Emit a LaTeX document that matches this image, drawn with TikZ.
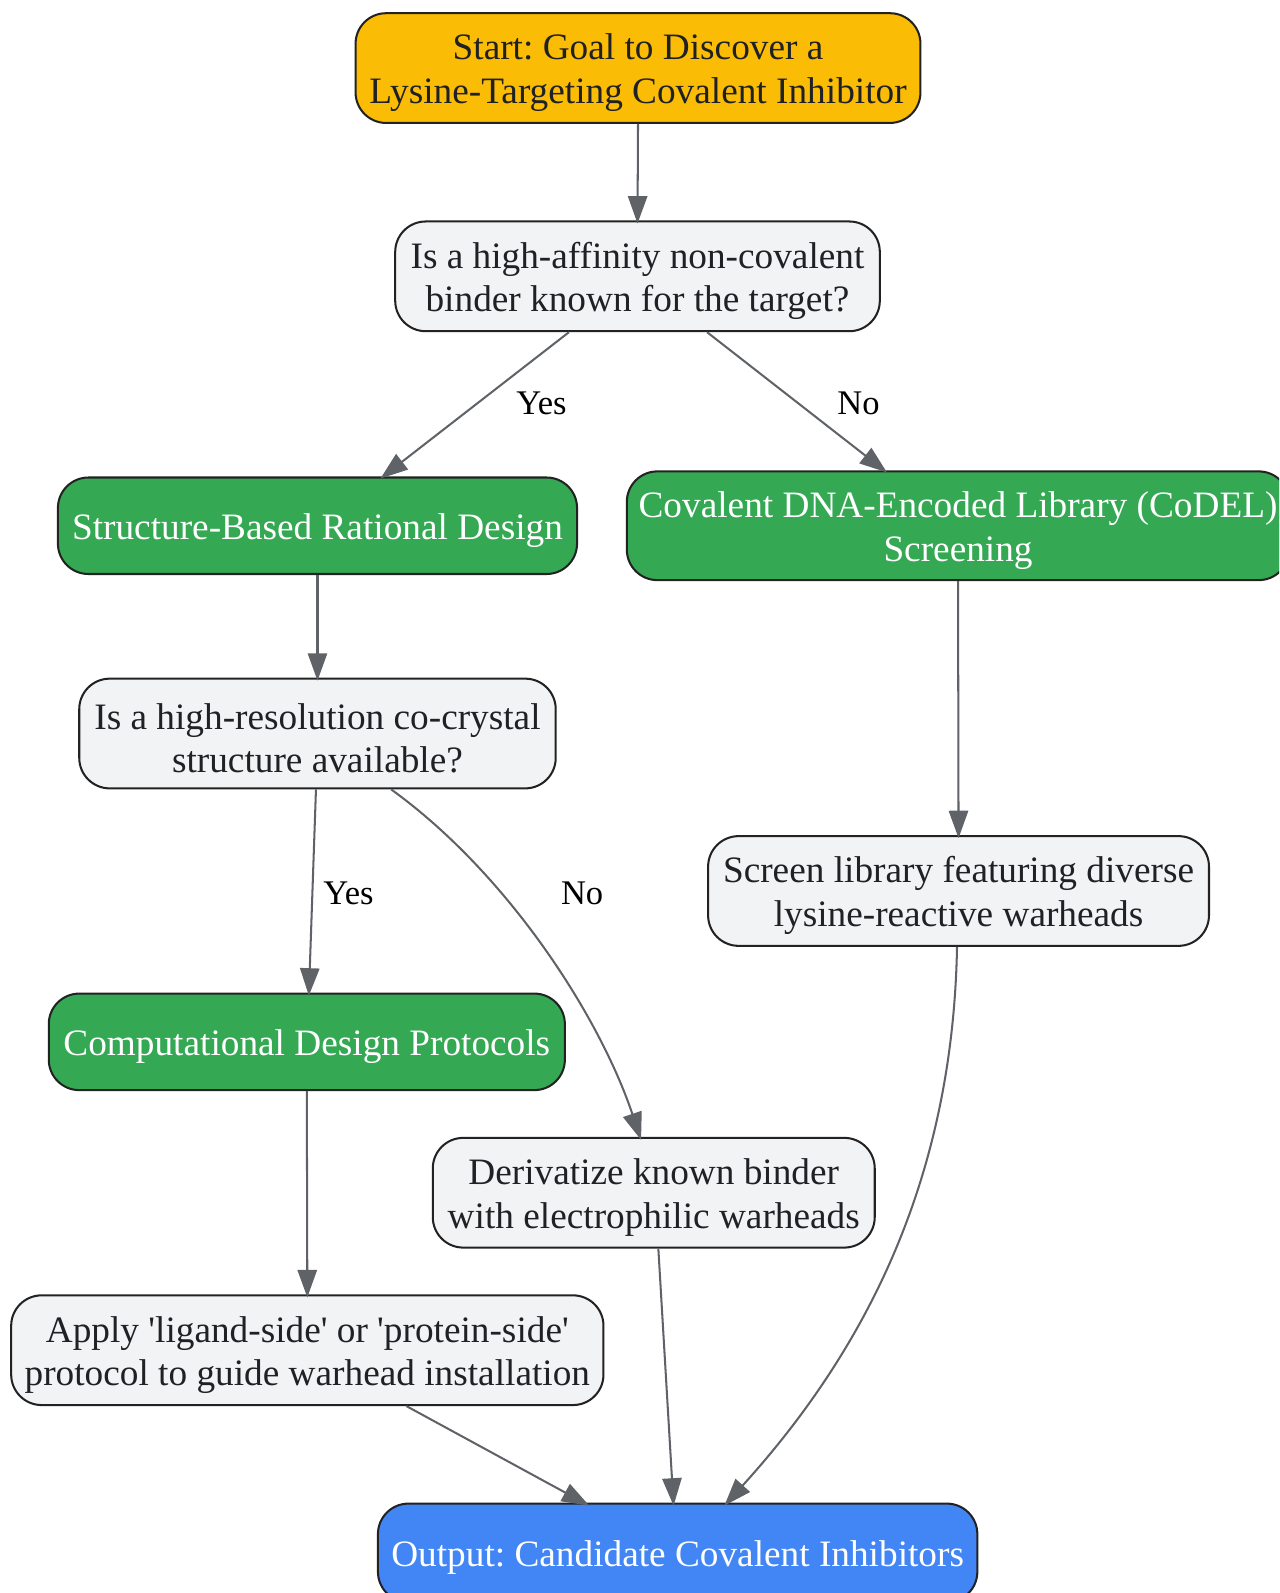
\documentclass[tikz,border=0pt]{standalone}
\usepackage{fontspec}
\setmainfont{Liberation Serif}
\frenchspacing
\usetikzlibrary{arrows.meta,calc}
\definecolor{gold}{HTML}{FBBC05}
\definecolor{ggreen}{HTML}{34A853}
\definecolor{gblue}{HTML}{4285F4}
\definecolor{lgray}{HTML}{F1F3F4}
\definecolor{edgec}{HTML}{5F6368}
\definecolor{txt}{HTML}{202124}
\definecolor{bord}{HTML}{222222}
\newcommand{\tstrut}{\rule{0pt}{35pt}}
\tikzset{
  box/.style={draw=bord, line width=2pt, rounded corners=30pt, align=center, inner sep=0pt,
    font=\fontsize{36.7}{43}\selectfont\frenchspacing},
  startbox/.style={box, fill=gold, text=txt},
  qbox/.style={box, fill=lgray, text=txt},
  greenbox/.style={box, fill=ggreen, text=white},
  bluebox/.style={box, fill=gblue, text=white},
  conn/.style={draw=edgec, line width=2pt, -{Triangle[length=27pt,width=19pt]}},
  lbl/.style={font=\fontsize{34}{40}\selectfont, text=black, inner sep=0pt}
}
\begin{document}
\begin{tikzpicture}[x=1pt,y=-1pt]
\useasboundingbox (0,0) rectangle (1259,1568);
\clip (0,0) rectangle (1259,1568);
\node[startbox, minimum width=556pt, minimum height=108pt] (start) at (628,67) {\tstrut Start: Goal to Discover a\\Lysine-Targeting Covalent Inhibitor};
\node[qbox, minimum width=477pt, minimum height=108pt] (q1) at (627.5,272) {\tstrut Is a high-affinity non-covalent\\binder known for the target?};
\node[greenbox, minimum width=511pt, minimum height=95pt] (sbrd) at (312.5,517.5) {\tstrut Structure-Based Rational Design};
\node[greenbox, minimum width=652pt, minimum height=107pt] (codel) at (943,517.5) {\tstrut Covalent DNA-Encoded Library (CoDEL)\\Screening};
\node[qbox, minimum width=469pt, minimum height=108pt] (q2) at (312.5,722) {\tstrut Is a high-resolution co-crystal\\structure available?};
\node[qbox, minimum width=493pt, minimum height=108pt] (screen) at (943.5,877) {\tstrut Screen library featuring diverse\\lysine-reactive warheads};
\node[greenbox, minimum width=508pt, minimum height=95pt] (cdp) at (302,1025.5) {\tstrut Computational Design Protocols};
\node[qbox, minimum width=435pt, minimum height=108pt] (deriv) at (643.5,1174) {\tstrut Derivatize known binder\\with electrophilic warheads};
\node[qbox, minimum width=583pt, minimum height=108pt] (apply) at (302.5,1329) {\tstrut Apply \textquotesingle ligand-side\textquotesingle{} or \textquotesingle protein-side\textquotesingle\\protocol to guide warhead installation};
\node[bluebox, minimum width=590pt, minimum height=97pt] (output) at (667,1528.5) {\tstrut Output: Candidate Covalent Inhibitors};

\draw[conn] (start.south) -- ([yshift=-3pt]q1.north);
\draw[conn] ([xshift=-67.5pt]q1.south) -- ([xshift=62pt,yshift=-2pt]sbrd.north);
\draw[conn] ([xshift=68.5pt]q1.south) -- ([xshift=-70pt,yshift=-2pt]codel.north);
\draw[conn] (sbrd.south) -- ([yshift=-3pt]q2.north);
\draw[conn] (codel.south) -- ([yshift=-3pt]screen.north);
\draw[conn] ([xshift=-1.5pt]q2.south) -- ([xshift=2pt,yshift=-3pt]cdp.north);
\draw[conn] ([xshift=72.5pt]q2.south) .. controls (500,860) and (590,1000) .. ([xshift=-12.5pt,yshift=-3pt]deriv.north);
\draw[conn] (cdp.south) -- ([yshift=-3pt]apply.north);
\draw[conn] ([xshift=-1.5pt]screen.south) .. controls (938,1150) and (860,1320) .. ([xshift=46pt,yshift=-3pt]output.north);
\draw[conn] ([xshift=4.5pt]deriv.south) -- ([xshift=-4pt,yshift=-3pt]output.north);
\draw[conn] ([xshift=97.5pt]apply.south) -- ([xshift=-87pt,yshift=-3pt]output.north);

\node[lbl] (l1) at (533,397) {Yes};
\node[lbl] (l2) at (845,397) {No};
\node[lbl] (l3) at (343,879) {Yes};
\node[lbl] (l4) at (573,879) {No};
\end{tikzpicture}
\end{document}
